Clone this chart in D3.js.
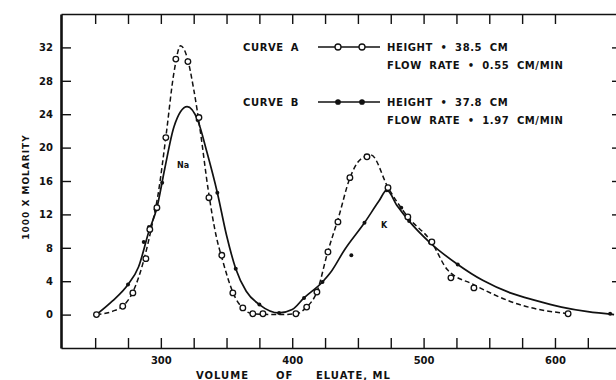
<!DOCTYPE html>
<html>
<head>
<meta charset="utf-8">
<script src="https://cdn.jsdelivr.net/npm/d3@7"></script>
<style>
  body { margin: 0; background: #fff; }
  text { font-family: "DejaVu Sans", sans-serif; font-weight: bold; fill: #111; }
</style>
</head>
<body>
<div id="chart"></div>
<script>
// volume (ml) , 1000 x molarity
// curve A : dashed line and open circles
const curveA_line = [
  [251,0],[265,0.5],[271,1.0],[279,2.8],[287,6.5],[293,10.5],[298,14.5],[304,21.5],[310,29],
  [315,32.2],[320,30.8],[325,27],[330,22],[336,15],[342,9.5],[347,6.5],[355,2.6],[362,0.8],
  [370,0.1],[390,0],[403,0.1],[411,0.9],[419,2.8],[427,7.5],[435,11.5],[444,16.4],[452,18.6],
  [460,19.1],[473,15.2],[488,11.7],[506,8.7],[518,5.4],[538,3.6],[573,1.2],[610,0.1]
];
const curveA_points = [
  [251,0],[271,1.0],[278.7,2.6],[288.6,6.7],[291.6,10.2],[297,12.8],[303.8,21.2],[311.4,30.6],
  [320.6,30.3],[329,23.6],[336.6,14.0],[346.4,7.1],[354.8,2.6],[362.4,0.8],[370,0.1],[377.7,0.1],
  [402.8,0.1],[411,0.9],[418.8,2.7],[427.2,7.5],[434.8,11.1],[443.9,16.4],[456.9,18.9],
  [472.9,15.2],[488,11.7],[506.3,8.7],[520.8,4.4],[538.3,3.2],[610,0.1]
];
// curve B : solid line and filled dots
const curveB_line = [
  [251,0],[263,1.6],[275,3.6],[283,5.7],[291,10],[297,12.8],[303,17.5],[310,22.5],[320,24.9],
  [328,23.3],[335,19.5],[343,14.6],[350,9.5],[357,5.5],[365,2.8],[375,1.2],[390,0.2],[400,0.6],
  [409,2.0],[423,3.9],[429,5.0],[440,7.8],[455,11.0],[466,13.6],[472,14.9],[480,13.0],[489,11.2],
  [505,8.6],[526,6.0],[545,4.1],[566,2.6],[585,1.7],[605,0.9],[625,0.35],[645,0]
];
const curveB_points = [
  [275,3.6],[287,8.7],[291,10.5],[296,12.6],[301,15.8],[328,23.3],[343,14.6],[357,5.5],[375,1.2],
  [390,0.2],[409,2.0],[423,3.9],[445,7.1],[455,11.0],[472,14.9],[483,12.8],[489,11.2],[505,8.6],
  [526,6.0],[642,0.1]
];
const yTicks = [0,4,8,12,16,20,24,28,32];
const xTicks = [250,275,300,325,350,375,400,425,450,475,500,525,550,575,600,625];
const xLabels = [300,400,500,600];
const legendA = ["CURVE  A", "HEIGHT • 38.5 CM", "FLOW  RATE • 0.55 CM/MIN"];
const legendB = ["CURVE  B", "HEIGHT • 37.8 CM", "FLOW  RATE • 1.97 CM/MIN"];

const width = 616, height = 380;
const marginLeft = 61, marginRight = 620, marginTop = 14, marginBottom = 348;

const svg = d3.select("#chart").append("svg")
  .attr("width", width).attr("height", height);

const x = d3.scaleLinear().domain([224, 649.5]).range([marginLeft, marginRight]);
const y = d3.scaleLinear().domain([-4, 36]).range([marginBottom, marginTop]);

// axes / frame
const gb = svg.append("g").attr("transform", `translate(0,${marginBottom})`)
  .call(d3.axisBottom(x).tickValues(xTicks).tickSize(-10).tickSizeOuter(0).tickPadding(9)
    .tickFormat(d => xLabels.includes(d) ? d : ""));
const gt = svg.append("g").attr("transform", `translate(0,${marginTop})`)
  .call(d3.axisTop(x).tickValues(xTicks.slice(0, -1)).tickSize(-10).tickSizeOuter(0).tickFormat(""));
const gl = svg.append("g").attr("transform", `translate(${marginLeft},0)`)
  .call(d3.axisLeft(y).tickValues(yTicks).tickSize(-10).tickSizeOuter(0).tickPadding(8));
const gr = svg.append("g").attr("transform", `translate(${marginRight},0)`)
  .call(d3.axisRight(y).tickValues(yTicks.slice(1)).tickSize(-8).tickSizeOuter(0).tickFormat(""));

[gb, gt, gl, gr].forEach(g => {
  g.select(".domain").attr("stroke", "#111").attr("stroke-width", 1.6);
  g.selectAll(".tick line").attr("stroke", "#111").attr("stroke-width", 1.4);
  g.selectAll("text").style("font-size", "10px").attr("fill", "#111");
});
gl.select(".domain").attr("stroke-width", 2.6);

// axis titles
svg.append("text")
  .attr("transform", `translate(26,${187}) rotate(-90)`)
  .attr("text-anchor", "middle").attr("dy", "0.35em")
  .style("font-size", "9px").style("letter-spacing", "1px")
  .text("1000 X MOLARITY");

const xTitle = [["VOLUME", 196], ["OF", 276], ["ELUATE, ML", 316]];
svg.selectAll(".xtitle").data(xTitle).enter().append("text")
  .attr("x", d => d[1]).attr("y", 375).attr("dy", "0.35em")
  .style("font-size", "10px").style("letter-spacing", "1px")
  .text(d => d[0]);

// curves
const line = d3.line().x(d => x(d[0])).y(d => y(d[1])).curve(d3.curveMonotoneX);

svg.append("path").datum(curveA_line)
  .attr("d", line).attr("fill", "none").attr("stroke", "#111")
  .attr("stroke-width", 1.5).attr("stroke-dasharray", "5,3");

svg.append("path").datum(curveB_line)
  .attr("d", line).attr("fill", "none").attr("stroke", "#111")
  .attr("stroke-width", 1.7);

svg.selectAll(".ptB").data(curveB_points).enter().append("circle")
  .attr("cx", d => x(d[0])).attr("cy", d => y(d[1])).attr("r", 2)
  .attr("fill", "#111");

svg.selectAll(".ptA").data(curveA_points).enter().append("circle")
  .attr("cx", d => x(d[0])).attr("cy", d => y(d[1])).attr("r", 2.8)
  .attr("fill", "#fff").attr("stroke", "#111").attr("stroke-width", 1.3);

// peak labels
svg.append("text").attr("x", 183).attr("y", 165).attr("dy", "0.35em")
  .attr("text-anchor", "middle").style("font-size", "8px").text("Na");
svg.append("text").attr("x", 384).attr("y", 225).attr("dy", "0.35em")
  .attr("text-anchor", "middle").style("font-size", "8px").text("K");

// legend
function legend(rows, yy, filled) {
  const g = svg.append("g");
  g.append("text").attr("x", 243).attr("y", yy).attr("dy", "0.35em")
    .style("font-size", "10px").style("letter-spacing", "0.6px").style("word-spacing", "3px")
    .text(rows[0]);
  g.append("line").attr("x1", 318).attr("x2", 380).attr("y1", yy).attr("y2", yy)
    .attr("stroke", "#111").attr("stroke-width", 1.6);
  [338, 362].forEach(cx => {
    g.append("circle").attr("cx", cx).attr("cy", yy).attr("r", filled ? 2.2 : 3)
      .attr("fill", filled ? "#111" : "#fff").attr("stroke", "#111").attr("stroke-width", 1.3);
  });
  g.append("text").attr("x", 387).attr("y", yy).attr("dy", "0.35em")
    .style("font-size", "10px").style("letter-spacing", "0.6px").style("word-spacing", "3.5px")
    .text(rows[1]);
  g.append("text").attr("x", 387).attr("y", yy + 18).attr("dy", "0.35em")
    .style("font-size", "10px").style("letter-spacing", "0.6px").style("word-spacing", "3.5px")
    .text(rows[2]);
}
legend(legendA, 47, false);
legend(legendB, 102, true);
</script>
</body>
</html>
